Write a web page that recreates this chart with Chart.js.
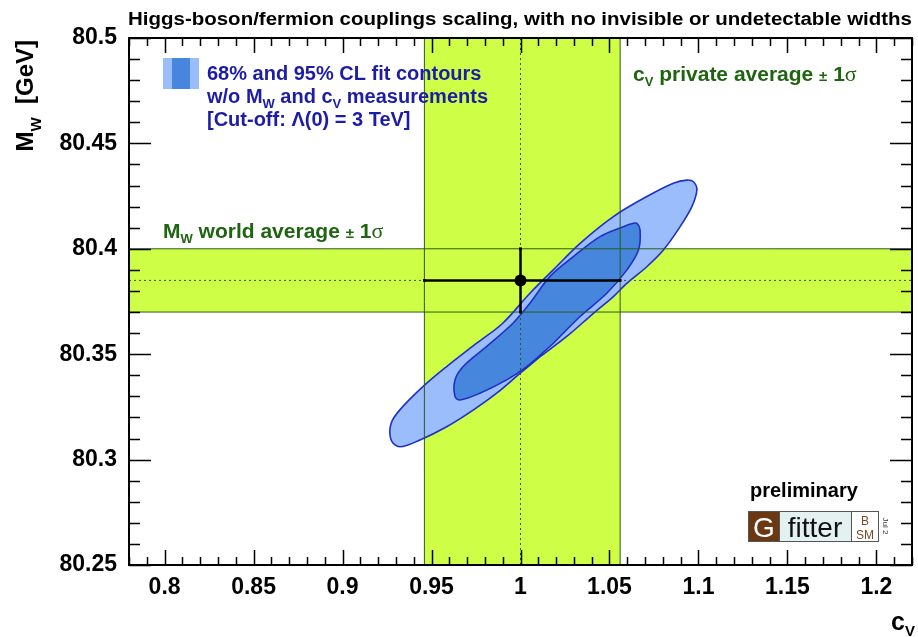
<!DOCTYPE html>
<html>
<head>
<meta charset="utf-8">
<script src="https://cdn.jsdelivr.net/npm/chart.js@4/dist/chart.umd.min.js"></script>
<style>
  html, body { margin: 0; padding: 0; background: #fff; }
  #wrap { width: 918px; height: 637px; }
</style>
</head>
<body>
<div id="wrap"><canvas id="grafico" width="918" height="637"></canvas></div>
<script>
// ejes
const xTicks = [0.8, 0.85, 0.9, 0.95, 1, 1.05, 1.1, 1.15, 1.2];
const yTicks = [80.25, 80.3, 80.35, 80.4, 80.45, 80.5];
const xRange = [0.78, 1.22];
const yRange = [80.25, 80.5];

// bandas: c_V promedio privado y M_W promedio mundial (±1σ)
const cvBand = [0.946, 1.056];
const mwBand = [80.37, 80.40];
const bestFit = [1.0, 80.385];

// contorno 95% CL (cerrado)
const contour95X = [1.0110, 0.9997, 0.9866, 0.9734, 0.9585, 0.9435, 0.9322, 0.9273, 0.9273, 0.9322,
                    0.9453, 0.9585, 0.9754, 0.9900, 1.0053, 1.0184, 1.0335, 1.0522, 1.0710, 1.0859,
                    1.0935, 1.0972, 1.0991, 1.0963, 1.0897, 1.0803, 1.0710, 1.0597, 1.0522, 1.0410,
                    1.0260, 1.0110];
const contour95Y = [80.3488, 80.3409, 80.3315, 80.3235, 80.3156, 80.3093, 80.3061, 80.3093, 80.3172, 80.3236,
                    80.3347, 80.3441, 80.3552, 80.3647, 80.3789, 80.3900, 80.4026, 80.4153, 80.4248, 80.4311,
                    80.4326, 80.4318, 80.4279, 80.4200, 80.4105, 80.3994, 80.3915, 80.3836, 80.3773, 80.3694,
                    80.3584, 80.3488];

// contorno 68% CL (cerrado)
const contour68X = [1.0185, 1.0035, 0.9922, 0.9772, 0.9660, 0.9632, 0.9632, 0.9678, 0.9810, 0.9959,
                    1.0053, 1.0166, 1.0297, 1.0447, 1.0578, 1.0634, 1.0654, 1.0672, 1.0663, 1.0598,
                    1.0485, 1.0335, 1.0185];
const contour68Y = [80.3552, 80.3441, 80.3378, 80.3315, 80.3283, 80.3299, 80.3378, 80.3442, 80.3537, 80.3648,
                    80.3742, 80.3869, 80.3963, 80.4058, 80.4105, 80.4121, 80.4121, 80.4089, 80.3994, 80.3900,
                    80.3789, 80.3679, 80.3552];

const VERDE_BANDA = 'rgb(206,255,70)';
const VERDE_LINEA = '#2d5a1e';
const VERDE_TEXTO = '#1f6410';
const AZUL_TEXTO = '#1c1ca8';
const FUENTE = '"Liberation Sans", Arial, Helvetica, sans-serif';

const puntos = (xs, ys) => xs.map((x, i) => ({ x: x, y: ys[i] }));

function linea(data, color, ancho, orden, dash) {
    return {
        data: data, showLine: true, fill: false, borderColor: color, borderWidth: ancho,
        borderDash: dash || [], pointRadius: 0, order: orden, tension: 0
    };
}

const datasets = [
    // bandas rellenas
    {
        data: puntos([cvBand[0], cvBand[0], cvBand[1], cvBand[1], cvBand[0]],
                     [yRange[0], yRange[1], yRange[1], yRange[0], yRange[0]]),
        showLine: true, fill: 'shape', backgroundColor: VERDE_BANDA, borderWidth: 0,
        pointRadius: 0, order: 20
    },
    {
        data: puntos([xRange[0], xRange[1], xRange[1], xRange[0], xRange[0]],
                     [mwBand[0], mwBand[0], mwBand[1], mwBand[1], mwBand[0]]),
        showLine: true, fill: 'shape', backgroundColor: VERDE_BANDA, borderWidth: 0,
        pointRadius: 0, order: 19
    },
    // contornos
    {
        data: puntos(contour95X, contour95Y), showLine: true, fill: 'shape',
        backgroundColor: '#9cbdfb', borderColor: '#1f30c4', borderWidth: 1.6,
        pointRadius: 0, tension: 0.35, order: 15
    },
    {
        data: puntos(contour68X, contour68Y), showLine: true, fill: 'shape',
        backgroundColor: '#4686dc', borderColor: '#1f30c4', borderWidth: 1.6,
        pointRadius: 0, tension: 0.35, order: 14
    },
    // bordes de las bandas y líneas punteadas
    linea(puntos([cvBand[0], cvBand[0]], yRange), VERDE_LINEA, 1, 10),
    linea(puntos([cvBand[1], cvBand[1]], yRange), VERDE_LINEA, 1, 10),
    linea(puntos(xRange, [mwBand[0], mwBand[0]]), VERDE_LINEA, 1, 10),
    linea(puntos(xRange, [mwBand[1], mwBand[1]]), VERDE_LINEA, 1, 10),
    linea(puntos([bestFit[0], bestFit[0]], yRange), VERDE_LINEA, 1, 9, [2, 3]),
    linea(puntos(xRange, [bestFit[1], bestFit[1]]), VERDE_LINEA, 1, 9, [2, 3]),
    // barras de error
    {
        data: puntos(cvBand, [bestFit[1], bestFit[1]]), showLine: true, fill: false,
        borderColor: '#000', borderWidth: 2.5, pointStyle: 'rect', pointRadius: 2,
        pointBackgroundColor: '#000', pointBorderWidth: 0, order: 3
    },
    {
        data: puntos([bestFit[0], bestFit[0]], mwBand), showLine: true, fill: false,
        borderColor: '#000', borderWidth: 2.5, pointStyle: 'rect', pointRadius: 2,
        pointBackgroundColor: '#000', pointBorderWidth: 0, order: 3
    },
    {
        data: [{ x: bestFit[0], y: bestFit[1] }], showLine: false,
        pointRadius: 6, pointBackgroundColor: '#000', pointBorderWidth: 0, order: 1
    }
];

// dibuja texto con subíndices: partes = [[texto, fuente, dy, color]]
function textoRico(ctx, x, y, partes, alinear) {
    let ancho = 0;
    partes.forEach(p => { ctx.font = p[1]; ancho += ctx.measureText(p[0]).width; });
    let cx = alinear === 'right' ? x - ancho : x;
    partes.forEach(p => {
        ctx.font = p[1];
        if (p[3]) ctx.fillStyle = p[3];
        ctx.fillText(p[0], cx, y + (p[2] || 0));
        cx += ctx.measureText(p[0]).width;
    });
}

const marco = {
    id: 'marco',
    afterDraw(chart) {
        const { ctx, chartArea: a, scales: { x, y } } = chart;
        ctx.save();
        ctx.strokeStyle = '#000';
        ctx.lineWidth = 1.5;
        ctx.beginPath();
        for (let k = Math.ceil(x.min * 100 - 1e-6); k <= Math.floor(x.max * 100 + 1e-6); k++) {
            const px = Math.round(x.getPixelForValue(k / 100)) + 0.5;
            const l = k % 5 === 0 ? 15 : 8;
            ctx.moveTo(px, a.bottom); ctx.lineTo(px, a.bottom - l);
            ctx.moveTo(px, a.top); ctx.lineTo(px, a.top + l);
        }
        for (let k = Math.ceil(y.min * 100 - 1e-6); k <= Math.floor(y.max * 100 + 1e-6); k++) {
            const py = Math.round(y.getPixelForValue(k / 100)) + 0.5;
            const l = k % 5 === 0 ? 22 : 11;
            ctx.moveTo(a.left, py); ctx.lineTo(a.left + l, py);
            ctx.moveTo(a.right, py); ctx.lineTo(a.right - l, py);
        }
        ctx.stroke();
        ctx.lineWidth = 2;
        ctx.strokeRect(a.left, a.top, a.right - a.left, a.bottom - a.top);

        // título
        ctx.fillStyle = '#000';
        ctx.textBaseline = 'alphabetic';
        ctx.font = 'bold 18px ' + FUENTE;
        const titulo = 'Higgs-boson/fermion couplings scaling, with no invisible or undetectable widths';
        const w = ctx.measureText(titulo).width;
        ctx.save();
        ctx.translate(128, 25);
        ctx.scale(784 / w, 1);
        ctx.fillText(titulo, 0, 0);
        ctx.restore();

        // título eje Y
        ctx.save();
        ctx.translate(33, 40);
        ctx.rotate(-Math.PI / 2);
        textoRico(ctx, 0, 0, [
            ['M', 'bold 24px ' + FUENTE, 0, '#000'],
            ['W', 'bold 15px ' + FUENTE, 8],
            ['  [GeV]', 'bold 24px ' + FUENTE, 0]
        ], 'right');
        ctx.restore();

        // título eje X
        textoRico(ctx, 915, 630, [
            ['c', 'bold 25px ' + FUENTE, 0, '#000'],
            ['V', 'bold 15px ' + FUENTE, 6]
        ], 'right');

        // leyenda de contornos
        ctx.fillStyle = '#9cbdfb';
        ctx.fillRect(163, 58, 36, 31);
        ctx.fillStyle = '#4686dc';
        ctx.fillRect(172, 58, 18, 31);
        const fb = 'bold 20px ' + FUENTE, fs = 'bold 13px ' + FUENTE;
        textoRico(ctx, 207, 80, [['68% and 95% CL fit contours', fb, 0, AZUL_TEXTO]]);
        textoRico(ctx, 207, 103, [
            ['w/o M', fb, 0, AZUL_TEXTO], ['W', fs, 5], [' and c', fb, 0], ['V', fs, 5], [' measurements', fb, 0]
        ]);
        textoRico(ctx, 207, 126, [['[Cut-off: \u039b(0) = 3 TeV]', fb, 0, AZUL_TEXTO]]);

        // etiquetas de las bandas
        const sig = '22px "Liberation Serif", serif';
        const fv = 'bold 21px ' + FUENTE;
        textoRico(ctx, 633, 81, [
            ['c', fv, 0, VERDE_TEXTO], ['V', fs, 5], [' private average ', fv, 0],
            ['\u00b1', 'bold 15px ' + FUENTE, 0], [' 1', fv, 0], ['\u03c3', sig, 0]
        ]);
        textoRico(ctx, 163, 238, [
            ['M', fv, 0, VERDE_TEXTO], ['W', fs, 5], [' world average ', fv, 0],
            ['\u00b1', 'bold 15px ' + FUENTE, 0], [' 1', fv, 0], ['\u03c3', sig, 0]
        ]);

        // logo
        ctx.fillStyle = '#000';
        ctx.font = 'bold 20px ' + FUENTE;
        ctx.fillText('preliminary', 750, 497);
        ctx.lineWidth = 1;
        ctx.strokeStyle = '#555';
        ctx.fillStyle = '#6b3814';
        ctx.fillRect(748, 511, 31, 31);
        ctx.fillStyle = '#e3f1f1';
        ctx.fillRect(779, 511, 72, 31);
        ctx.fillStyle = '#fff';
        ctx.fillRect(851, 511, 28, 31);
        ctx.strokeRect(748.5, 511.5, 130, 30);
        ctx.beginPath();
        ctx.moveTo(779.5, 511); ctx.lineTo(779.5, 542);
        ctx.moveTo(851.5, 511); ctx.lineTo(851.5, 542);
        ctx.stroke();
        ctx.textAlign = 'center';
        ctx.fillStyle = '#fff';
        ctx.font = '28px ' + FUENTE;
        ctx.fillText('G', 764, 537);
        ctx.fillStyle = '#111';
        ctx.fillText('fitter', 815, 537);
        ctx.fillStyle = '#7a4a1e';
        ctx.font = '12px ' + FUENTE;
        ctx.fillText('B', 865, 525);
        ctx.fillText('SM', 865, 539);
        ctx.save();
        ctx.translate(883, 526);
        ctx.rotate(Math.PI / 2);
        ctx.fillStyle = '#333';
        ctx.font = '8px ' + FUENTE;
        ctx.fillText('Jul 2', 0, 0);
        ctx.restore();
        ctx.restore();
    }
};

const formato = v => String(Number(v.toFixed(2)));

new Chart(document.getElementById('grafico'), {
    type: 'scatter',
    data: { datasets: datasets },
    options: {
        responsive: false,
        devicePixelRatio: 1,
        animation: false,
        layout: { padding: { top: 38, right: 3, left: 0, bottom: 0 } },
        plugins: { legend: { display: false }, tooltip: { enabled: false }, title: { display: false } },
        elements: { line: { capBezierPoints: false } },
        scales: {
            x: {
                type: 'linear', position: 'bottom', min: xRange[0], max: xRange[1],
                grid: { display: false, drawTicks: false }, border: { display: false },
                afterBuildTicks: s => { s.ticks = xTicks.map(v => ({ value: v })); },
                afterFit: s => { s.height = 72; },
                ticks: {
                    autoSkip: false, maxRotation: 0, padding: 9, color: '#000',
                    font: { family: FUENTE, size: 23, weight: 'bold' },
                    callback: v => formato(v)
                }
            },
            y: {
                type: 'linear', position: 'left', min: yRange[0], max: yRange[1],
                grid: { display: false, drawTicks: false }, border: { display: false },
                afterBuildTicks: s => { s.ticks = yTicks.map(v => ({ value: v })); },
                afterFit: s => { s.width = 129; },
                ticks: {
                    autoSkip: false, padding: 12, color: '#000',
                    font: { family: FUENTE, size: 23, weight: 'bold' },
                    callback: v => formato(v)
                }
            }
        }
    },
    plugins: [marco]
});
</script>
</body>
</html>
